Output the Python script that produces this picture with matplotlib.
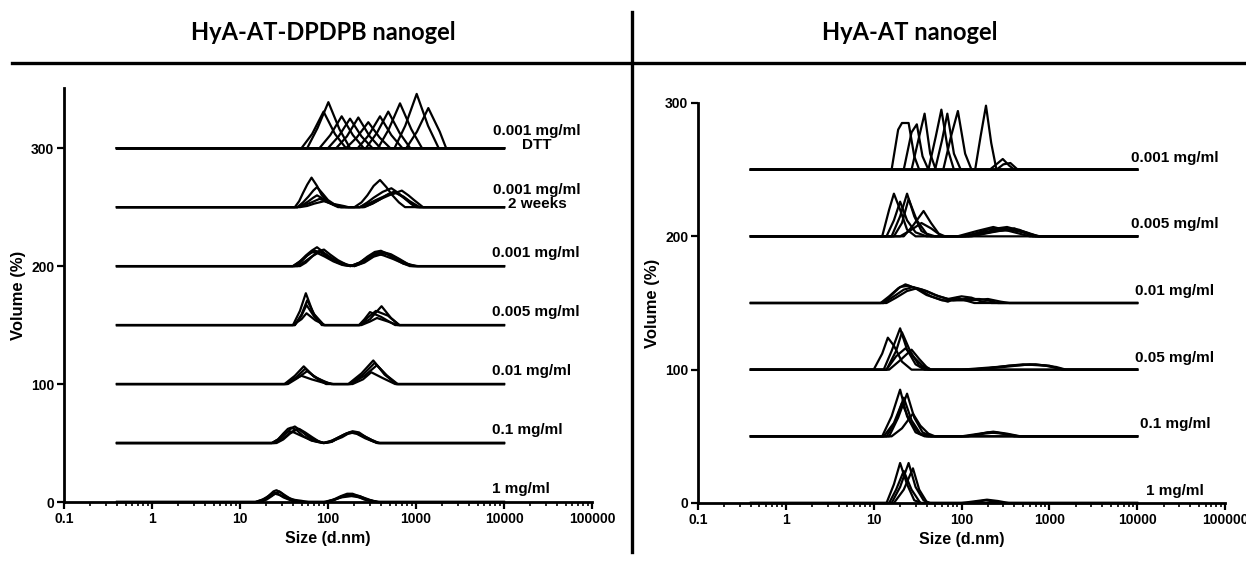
import matplotlib
matplotlib.use("Agg")

import matplotlib.pyplot as plt
from matplotlib.lines import Line2D
from matplotlib.ticker import FixedLocator, LogLocator, NullFormatter

SIZE_MIN = 0.4      # every DLS curve runs 0.4 .. 10000 nm
SIZE_MAX = 10000

# ---- HyA-AT-DPDPB nanogel (left), (size nm, volume %) vertices per run ----
dpdpb_dtt = [
    [(50, 0), (66, 12), (89, 31), (120, 12), (160, 0)],
    [(58, 0), (76, 17), (101, 39), (135, 16), (178, 0)],
    [(80, 0), (106, 11), (143, 27), (192, 11), (255, 0)],
    [(100, 0), (132, 10), (178, 25), (240, 10), (320, 0)],
    [(124, 0), (164, 10), (221, 26), (298, 10), (395, 0)],
    [(160, 0), (212, 9), (287, 22), (386, 9), (510, 0)],
    [(218, 0), (290, 11), (390, 27), (525, 11), (700, 0)],
    [(270, 0), (360, 13), (484, 31), (650, 13), (860, 0)],
    [(370, 0), (490, 16), (658, 38), (885, 16), (1170, 0)],
    [(570, 0), (755, 19), (1018, 46), (1370, 19), (1810, 0)],
    [(775, 0), (1025, 14), (1380, 34), (1860, 14), (2200, 0)],
]
dpdpb_2weeks = [
    [(42, 0), (47, 5), (52, 12), (58, 19), (65, 25), (75, 18), (85, 10), (100, 5), (115, 2), (140, 0),
     (200, 0), (240, 4), (280, 10), (330, 18), (390, 23), (460, 17), (540, 10), (640, 4), (750, 0)],
    [(45, 0), (52, 4), (60, 9), (68, 14), (75, 17), (88, 11), (100, 6), (120, 2), (140, 0),
     (230, 0), (280, 4), (330, 8), (420, 13), (525, 16), (630, 12), (750, 7), (870, 3), (1000, 0)],
    [(45, 0), (52, 2), (60, 5), (68, 8), (75, 10), (88, 7), (100, 4), (130, 0),
     (260, 0), (320, 3), (400, 7), (530, 11), (690, 14), (820, 10), (950, 6), (1200, 0)],
    [(45, 0), (55, 2), (65, 4), (80, 7), (95, 5), (110, 3), (150, 1), (170, 0),
     (230, 0), (290, 3), (350, 6), (460, 10), (600, 12), (720, 9), (850, 5), (1100, 0)],
    [(48, 0), (58, 1), (70, 3), (90, 5), (120, 2), (160, 0),
     (250, 0), (320, 3), (400, 7), (480, 11), (560, 13), (660, 10), (800, 6), (920, 2), (1050, 0)],
]
dpdpb_0001 = [
    [(40, 0), (48, 4), (56, 9), (65, 13), (75, 16), (88, 12), (105, 7), (130, 3), (160, 1), (190, 0),
     (230, 3), (280, 8), (340, 12), (400, 13), (480, 10), (580, 6), (720, 2), (950, 0)],
    [(42, 0), (50, 4), (58, 9), (70, 13), (82, 12), (98, 8), (120, 4), (150, 1), (180, 0),
     (230, 3), (290, 8), (380, 12), (470, 10), (580, 7), (720, 3), (900, 0)],
    [(45, 0), (55, 4), (65, 8), (80, 12), (95, 10), (115, 6), (140, 3), (170, 1), (200, 0),
     (250, 3), (320, 8), (420, 12), (520, 10), (650, 6), (800, 2), (1000, 0)],
    [(40, 0), (46, 3), (54, 7), (65, 12), (76, 11), (92, 8), (115, 4), (145, 1), (180, 0),
     (230, 3), (280, 7), (350, 11), (430, 9), (550, 6), (680, 3), (850, 0)],
    [(48, 0), (56, 3), (68, 9), (80, 13), (90, 14), (105, 10), (130, 5), (165, 1), (200, 0),
     (260, 3), (330, 8), (450, 11), (560, 8), (700, 4), (850, 1), (1050, 0)],
]
dpdpb_0005 = [
    [(40, 0), (48, 12), (56, 27), (68, 10), (85, 0), (230, 0), (300, 5), (406, 16), (520, 6), (650, 0)],
    [(42, 0), (50, 9), (58, 21), (70, 9), (90, 0), (225, 0), (260, 5), (300, 11), (400, 7), (580, 0)],
    [(40, 0), (50, 5), (57, 10), (72, 4), (92, 0), (240, 0), (300, 3), (360, 6), (480, 3), (620, 0)],
    [(42, 0), (50, 8), (57, 17), (70, 7), (88, 0), (230, 0), (280, 6), (350, 12), (480, 8), (640, 0)],
]
dpdpb_001 = [
    [(32, 0), (42, 7), (53, 15), (68, 7), (90, 2), (110, 0), (170, 0), (240, 9), (327, 20), (440, 8), (600, 0)],
    [(35, 0), (45, 5), (58, 11), (75, 5), (100, 1), (115, 0), (180, 0), (260, 7), (360, 16), (470, 7), (620, 0)],
    [(33, 0), (40, 4), (50, 7), (65, 4), (90, 1), (110, 0), (190, 0), (250, 4), (310, 10), (420, 5), (580, 0)],
    [(34, 0), (44, 6), (55, 13), (70, 6), (95, 0), (175, 0), (250, 8), (340, 18), (450, 8), (600, 0)],
]
dpdpb_01 = [
    [(23, 0), (27, 3), (31, 8), (35, 12), (38, 13), (44, 11), (52, 6), (65, 2), (89, 0),
     (110, 1), (130, 4), (155, 7), (180, 9), (215, 8), (260, 5), (310, 2), (370, 0)],
    [(24, 0), (29, 4), (34, 9), (39, 13), (42, 14), (48, 11), (58, 6), (72, 2), (90, 0),
     (110, 1), (135, 5), (160, 8), (190, 10), (225, 9), (270, 5), (320, 2), (370, 0)],
    [(25, 0), (30, 3), (36, 8), (42, 11), (46, 12), (53, 9), (62, 5), (75, 2), (90, 0),
     (105, 1), (125, 4), (150, 7), (175, 9), (210, 8), (265, 4), (310, 2), (360, 0)],
    [(23, 0), (27, 3), (31, 7), (36, 10), (41, 9), (50, 6), (62, 3), (75, 1), (88, 0),
     (110, 2), (135, 5), (165, 8), (200, 9), (235, 7), (280, 4), (330, 2), (380, 0)],
    [(26, 0), (31, 3), (37, 8), (43, 11), (47, 12), (55, 9), (66, 5), (80, 1), (90, 0),
     (115, 2), (145, 5), (170, 8), (200, 9), (240, 7), (290, 4), (340, 1), (390, 0)],
]
dpdpb_1 = [
    [(15, 0), (18, 2), (21, 5), (24, 9), (26, 10), (29, 8), (34, 4), (40, 2), (50, 1), (60, 0),
     (95, 0), (115, 2), (140, 5), (165, 7), (190, 7), (225, 5), (270, 3), (320, 1), (370, 0)],
    [(16, 0), (19, 2), (21, 5), (24, 8), (27, 7), (31, 4), (36, 2), (42, 0),
     (95, 0), (120, 2), (150, 5), (190, 6), (230, 5), (280, 2), (360, 0)],
    [(17, 0), (20, 2), (23, 5), (26, 8), (28, 9), (32, 6), (37, 3), (44, 1), (50, 0),
     (100, 0), (120, 2), (145, 5), (175, 6), (210, 5), (260, 2), (350, 0)],
    [(15, 0), (18, 2), (21, 4), (25, 7), (28, 6), (32, 4), (38, 2), (48, 0),
     (90, 0), (115, 2), (145, 4), (185, 5), (225, 4), (280, 2), (380, 0)],
]
dpdpb_groups = [dpdpb_dtt, dpdpb_2weeks, dpdpb_0001, dpdpb_0005, dpdpb_001, dpdpb_01, dpdpb_1]
dpdpb_offsets = [300, 250, 200, 150, 100, 50, 0]
dpdpb_labels = ["0.001 mg/ml\nDTT", "0.001 mg/ml\n2 weeks", "0.001 mg/ml",
                "0.005 mg/ml", "0.01 mg/ml", "0.1 mg/ml", "1 mg/ml"]

# ---- HyA-AT nanogel (right) ----
hya_0001 = [
    [(16, 0), (19, 30), (21, 35), (25, 35), (29, 10), (33, 0)],
    [(22, 0), (27, 28), (31, 34), (36, 10), (42, 0)],
    [(27, 0), (33, 25), (38, 42), (44, 12), (51, 0)],
    [(42, 0), (51, 25), (59, 45), (70, 15), (82, 0)],
    [(50, 0), (60, 22), (69, 42), (82, 12), (98, 0)],
    [(62, 0), (76, 25), (91, 44), (110, 12), (130, 0), (210, 0), (260, 5), (295, 8), (350, 3), (400, 0)],
    [(143, 0), (165, 25), (190, 48), (218, 20), (250, 0), (300, 4), (360, 5), (437, 0)],
]
hya_0005 = [
    [(12.5, 0), (15, 20), (17, 32), (20, 20), (24, 5), (30, 0), (100, 0), (180, 3), (300, 6), (500, 3), (780, 0)],
    [(14, 0), (17, 12), (20, 26), (24, 12), (30, 3), (40, 0), (110, 0), (200, 5), (330, 7), (550, 3), (750, 0)],
    [(16, 0), (20, 15), (24, 32), (29, 15), (35, 4), (45, 0), (90, 0), (150, 4), (230, 7), (350, 4), (600, 0)],
    [(17, 0), (21, 10), (25, 28), (31, 12), (40, 2), (50, 0), (130, 0), (220, 3), (400, 6), (650, 0)],
    [(22, 0), (28, 8), (37, 19), (45, 10), (55, 2), (65, 0)],
    [(20, 0), (27, 5), (35, 10), (45, 6), (60, 0), (120, 0), (250, 4), (450, 5), (700, 0)],
]
hya_001 = [
    [(12, 0), (15, 5), (19, 11), (23, 14), (30, 11), (40, 6), (55, 3), (70, 1), (90, 4), (110, 2), (140, 0)],
    [(13, 0), (17, 5), (22, 10), (28, 12), (36, 10), (50, 6), (70, 3), (100, 5), (130, 4), (170, 1), (220, 0)],
    [(14, 0), (18, 4), (24, 9), (31, 11), (40, 9), (55, 5), (80, 2), (110, 3), (160, 3), (200, 2), (260, 0)],
    [(13, 0), (16, 6), (20, 12), (25, 13), (33, 10), (45, 5), (60, 2), (90, 2), (130, 2), (200, 3), (280, 1), (350, 0)],
]
hya_005 = [
    [(10, 0), (12.5, 12), (14.5, 24), (17, 18), (21, 6), (27, 0)],
    [(13, 0), (16, 14), (20, 31), (24, 15), (30, 4), (38, 0), (100, 0), (250, 2), (500, 4), (900, 3), (1500, 0)],
    [(14, 0), (18, 10), (23, 16), (28, 10), (36, 3), (45, 0), (150, 0), (350, 3), (700, 4), (1200, 2), (1550, 0)],
    [(15, 0), (20, 7), (27, 15), (33, 8), (40, 2), (45, 0), (120, 0), (300, 2), (600, 4), (1000, 3), (1400, 0)],
    [(14, 0), (18, 14), (21, 28), (26, 14), (33, 3), (42, 0)],
]
hya_01 = [
    [(12.5, 0), (16, 15), (20, 35), (24, 15), (30, 3), (38, 0), (100, 0), (160, 2), (230, 3.5), (330, 2), (470, 0)],
    [(14, 0), (18, 12), (22, 29), (27, 12), (34, 2), (42, 0)],
    [(15, 0), (19, 14), (24, 32), (29, 14), (36, 3), (45, 0), (110, 0), (180, 2), (250, 3), (400, 0)],
    [(16, 0), (21, 6), (28, 17), (34, 8), (42, 2), (50, 0)],
    [(13, 0), (17, 10), (21, 25), (26, 11), (33, 2), (40, 0), (120, 0), (200, 3), (300, 2), (450, 0)],
]
hya_1 = [
    [(14, 0), (17, 14), (20, 30), (24, 14), (29, 2), (35, 0), (100, 0), (150, 1.5), (195, 2.5), (260, 1.5), (345, 0)],
    [(16, 0), (20, 12), (25, 30), (30, 12), (37, 2), (43, 0)],
    [(17, 0), (22, 10), (28, 26), (33, 10), (40, 1), (44, 0), (120, 0), (190, 2), (300, 0)],
    [(15, 0), (18, 10), (22, 24), (27, 10), (34, 0)],
]
hya_groups = [hya_0001, hya_0005, hya_001, hya_005, hya_01, hya_1]
hya_offsets = [250, 200, 150, 100, 50, 0]
hya_labels = ["0.001 mg/ml", "0.005 mg/ml", "0.01 mg/ml", "0.05 mg/ml", "0.1 mg/ml", "1 mg/ml"]

x_ticks = [0.1, 1, 10, 100, 1000, 10000, 100000]
x_ticklabels = ["0.1", "1", "10", "100", "1000", "10000", "100000"]

FONT = "Liberation Sans"
LW = 1.6


def draw_group(ax, curves, offset):
    for pts in curves:
        xs = [SIZE_MIN] + [p[0] for p in pts] + [SIZE_MAX]
        ys = [offset] + [offset + p[1] for p in pts] + [offset]
        ax.plot(xs, ys, color="black", lw=LW, clip_on=False)


def style_axes(ax, ytop):
    ax.set_xscale("log")
    ax.set_xlim(0.1, 100000)
    ax.set_ylim(0, ytop)
    for s in ("top", "right"):
        ax.spines[s].set_visible(False)
    for s in ("left", "bottom"):
        ax.spines[s].set_linewidth(2)
    ax.xaxis.set_major_locator(FixedLocator(x_ticks))
    ax.set_xticklabels(x_ticklabels)
    ax.xaxis.set_minor_locator(LogLocator(base=10, subs=range(2, 10), numticks=20))
    ax.xaxis.set_minor_formatter(NullFormatter())
    ax.set_yticks([0, 100, 200, 300])
    ax.tick_params(axis="both", which="major", length=5, width=1.6, direction="out",
                   labelsize=10, pad=2)
    ax.tick_params(axis="x", which="minor", length=3, width=1.2, direction="out")
    for lab in ax.get_xticklabels() + ax.get_yticklabels():
        lab.set_fontfamily(FONT)
        lab.set_fontweight("bold")
    ax.set_xlabel("Size (d.nm)", fontsize=11.5, fontweight="bold", family=FONT, labelpad=4)
    ax.set_ylabel("Volume (%)", fontsize=12, fontweight="bold", family=FONT)
    ax.yaxis.set_label_coords(-0.072, 0.5)


fig = plt.figure(figsize=(12.46, 5.61), dpi=100)

# left panel
ax1 = fig.add_axes([64 / 1246, 1 - 502 / 561, 528 / 1246, 414 / 561])
style_axes(ax1, 351)
for curves, off, lab in zip(dpdpb_groups, dpdpb_offsets, dpdpb_labels):
    draw_group(ax1, curves, off)
    if "\n" in lab:
        ax1.text(23700, off + 8.5, lab, ha="center", va="center", fontsize=11,
                 fontweight="bold", family=FONT, linespacing=1.0)
    else:
        ax1.text(7300, off + 11, lab, ha="left", va="center", fontsize=11,
                 fontweight="bold", family=FONT)

# right panel
ax2 = fig.add_axes([698 / 1246, 1 - 503 / 561, 527 / 1246, 400 / 561])
style_axes(ax2, 300)
for curves, off, lab in zip(hya_groups, hya_offsets, hya_labels):
    draw_group(ax2, curves, off)
    ax2.text(27000, off + 9, lab, ha="center", va="center", fontsize=11,
             fontweight="bold", family=FONT)

# header with rule and divider
fig.text(323 / 1246, 1 - 32 / 561, "HyA-AT-DPDPB nanogel", ha="center", va="center",
         fontsize=17, fontweight="bold", family="Lato")
fig.text(910 / 1246, 1 - 32 / 561, "HyA-AT nanogel", ha="center", va="center",
         fontsize=17, fontweight="bold", family="Lato")
fig.add_artist(Line2D([12 / 1246, 1.0], [1 - 63 / 561, 1 - 63 / 561], color="black", lw=2.4))
fig.add_artist(Line2D([632 / 1246, 632 / 1246], [1 - 12 / 561, 1 - 552 / 561], color="black", lw=2.4))

fig.savefig("out.png", dpi=100)
